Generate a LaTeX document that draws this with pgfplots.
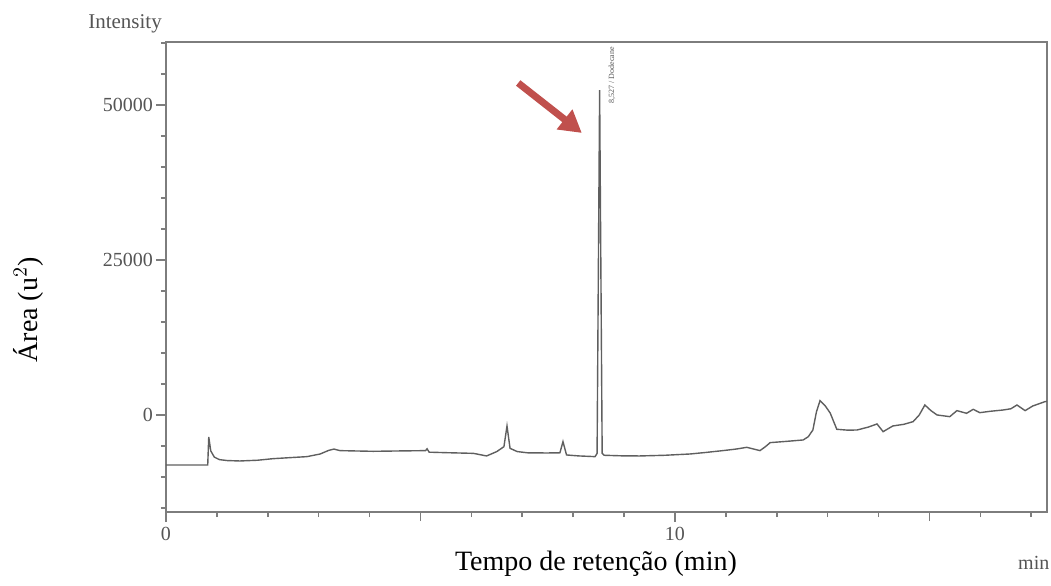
\documentclass[border=0pt]{standalone}
\usepackage{pgfplots}
\pgfplotsset{compat=1.18}
\usepackage{fontspec}
\setmainfont{Liberation Serif}
\usetikzlibrary{arrows.meta}
\definecolor{axgray}{RGB}{125,125,125}
\definecolor{trgray}{RGB}{95,95,95}
\definecolor{lblgray}{RGB}{85,85,85}
\definecolor{arrowred}{RGB}{192,80,77}
\pgfplotstableread{
t y
0.00 -8065
0.82 -8065
0.84 -3550
0.88 -5800
0.95 -6800
1.05 -7200
1.20 -7350
1.45 -7420
1.80 -7300
2.10 -7050
2.50 -6850
2.77 -6720
3.03 -6290
3.20 -5700
3.30 -5500
3.42 -5750
3.70 -5800
4.07 -5860
4.60 -5800
5.10 -5750
5.13 -5450
5.17 -6000
5.50 -6080
6.04 -6190
6.30 -6610
6.50 -5900
6.64 -5110
6.70 -1775
6.76 -5380
6.90 -5900
7.10 -6100
7.48 -6130
7.74 -6100
7.80 -4300
7.87 -6450
8.10 -6600
8.43 -6720
8.47 -6200
8.52 52400
8.57 -6200
8.61 -6500
9.00 -6600
9.31 -6610
9.80 -6500
10.30 -6290
10.60 -6050
10.94 -5750
11.20 -5500
11.41 -5215
11.55 -5500
11.67 -5750
11.78 -5100
11.87 -4460
12.20 -4250
12.52 -4030
12.62 -3500
12.71 -2420
12.78 500
12.85 2310
12.95 1500
13.05 320
13.18 -2310
13.40 -2450
13.58 -2420
13.80 -1950
13.97 -1450
14.09 -2690
14.28 -1775
14.50 -1500
14.68 -1075
14.80 0
14.91 1610
15.03 700
15.15 0
15.40 -270
15.54 700
15.73 270
15.86 915
15.99 375
16.20 600
16.45 806
16.60 1000
16.72 1610
16.88 700
17.03 1450
17.27 2150
17.31 2200
}\chrom
\begin{document}
\begin{tikzpicture}
\begin{axis}[
  at={(0,0)}, anchor=south west,
  scale only axis,
  width=440.5pt, height=235pt,
  xmin=0, xmax=17.31,
  ymin=-15650, ymax=60160,
  axis line style={axgray, line width=1pt},
  xtick={0,10},
  minor xtick={1,2,3,4,6,7,8,9,11,12,13,14,16,17},
  ytick={0,25000,50000},
  minor ytick={-15000,-10000,-5000,5000,10000,15000,20000,30000,35000,40000,45000,55000,60000},
  extra x ticks={5,15},
  extra x tick labels={},
  extra x tick style={major tick length=4.5pt},
  tick align=outside,
  xtick pos=bottom, ytick pos=left,
  major tick length=5pt,
  minor tick length=2.5pt,
  tick style={axgray, line width=0.8pt},
  scaled y ticks=false,
  /pgf/number format/assume math mode=true,
  /pgf/number format/1000 sep={},
  ticklabel style={font=\fontsize{10}{12}\selectfont, text=lblgray},
  xticklabel style={yshift=1pt},
  yticklabel style={xshift=2pt},
  xlabel={Tempo de retenção (min)},
  ylabel={Área (u$^2$)},
  xlabel style={at={(axis description cs:0.488,-0.1106)}, anchor=center, font=\fontsize{14}{16}\selectfont},
  ylabel style={at={(axis description cs:-0.1566,0.4298)}, anchor=center, rotate=0, font=\fontsize{14}{16}\selectfont},
  clip=false,
]
\addplot[trgray, line width=0.7pt] table[x=t, y=y] {\chrom};
\node[rotate=90, anchor=east, font=\fontsize{4}{5}\selectfont, text=lblgray, inner sep=0pt] at (axis cs:8.76,59400) {8,527 / Dodecane};
\draw[arrowred, line width=3.5pt, -{Triangle[length=11pt, width=12pt]}] (axis cs:6.92,53550) -- (axis cs:8.17,45490);
\node[font=\fontsize{10.5}{12}\selectfont, text=lblgray] at (axis description cs:-0.0465,1.038) {Intensity};
\node[font=\fontsize{10}{12}\selectfont, text=lblgray] at (axis description cs:0.985,-0.1085) {min};
\end{axis}
\pgfresetboundingbox
\path[use as bounding box] (-83pt,-36.5pt) rectangle (442.5pt,256pt);
\end{tikzpicture}
\end{document}
